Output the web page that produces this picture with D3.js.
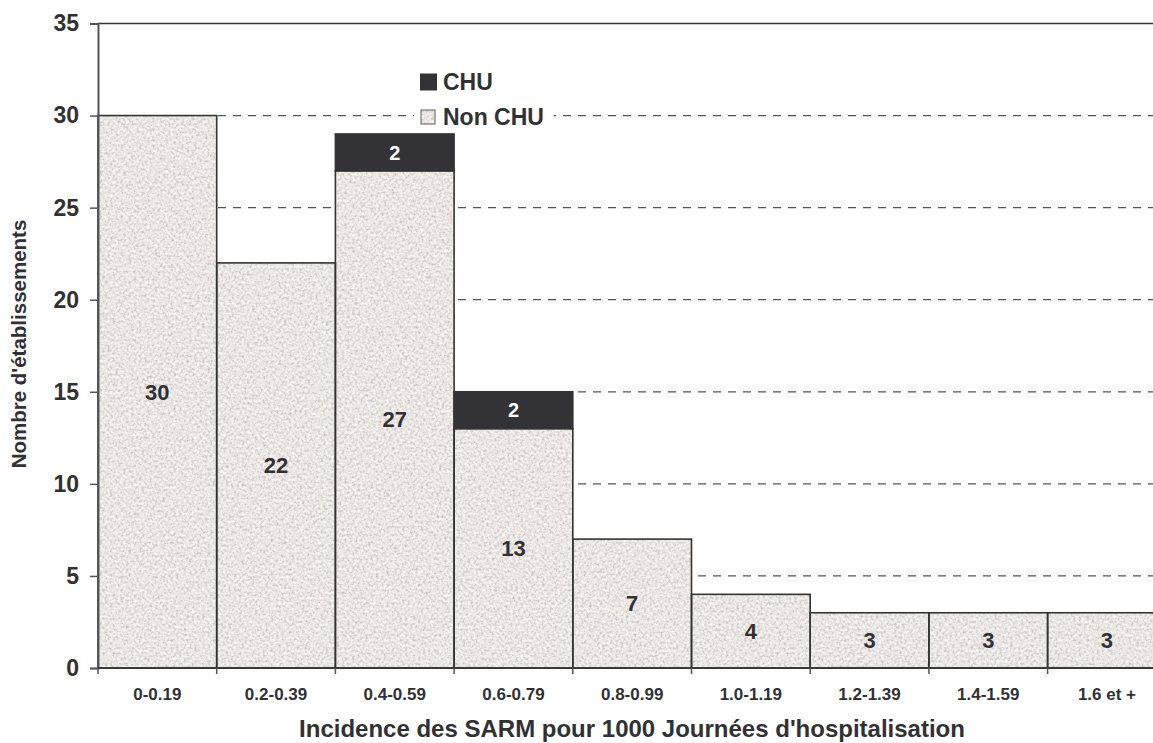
<!DOCTYPE html>
<html>
<head>
<meta charset="utf-8">
<script src="https://cdn.jsdelivr.net/npm/d3@7"></script>
<style>
  html, body { margin: 0; padding: 0; background: #fff; }
  svg { display: block; font-family: "Liberation Sans", Arial, Helvetica, sans-serif; font-weight: bold; }
</style>
</head>
<body>
<svg id="chart" width="1153" height="743"></svg>
<script>
// Incidence classes (per 1000 hospital days)
const categories = ["0-0.19", "0.2-0.39", "0.4-0.59", "0.6-0.79", "0.8-0.99", "1.0-1.19", "1.2-1.39", "1.4-1.59", "1.6 et +"];
// Number of facilities per class
const nonChu = [30, 22, 27, 13, 7, 4, 3, 3, 3];
const chu    = [0, 0, 2, 2, 0, 0, 0, 0, 0];
const seriesNames = ["Non CHU", "CHU"];
const yTicks = [0, 5, 10, 15, 20, 25, 30, 35];

const svg = d3.select("#chart");
const W = 1153, H = 743;
const margin = { left: 98, top: 23.5, bottom: 668 };
const plotRight = 98 + 9 * 118.7;

const textColor = "#313134";
const chuColor = "#333337";
const baseFill = "#ebe7e5";

// grainy fill texture for the "Non CHU" bars (region = each element's own box)
const defs = svg.append("defs");
const f = defs.append("filter").attr("id", "grain")
  .attr("x", 0).attr("y", 0).attr("width", 1).attr("height", 1)
  .attr("filterUnits", "objectBoundingBox")
  .attr("color-interpolation-filters", "sRGB");
f.append("feTurbulence").attr("type", "fractalNoise").attr("baseFrequency", 0.38)
  .attr("numOctaves", 3).attr("seed", 7).attr("result", "noise");
f.append("feColorMatrix").attr("in", "noise").attr("type", "matrix")
  .attr("values", "0 0 0 0 0.78  0 0 0 0 0.74  0 0 0 0 0.73  2.8 0 0 0 -1.42")
  .attr("result", "speck");
f.append("feColorMatrix").attr("in", "noise").attr("type", "matrix")
  .attr("values", "0 0 0 0 1  0 0 0 0 1  0 0 0 0 1  -3.0 0 0 0 1.42")
  .attr("result", "light");
f.append("feMerge").call(m => {
  m.append("feMergeNode").attr("in", "SourceGraphic");
  m.append("feMergeNode").attr("in", "light");
  m.append("feMergeNode").attr("in", "speck");
});
defs.append("clipPath").attr("id", "clipAll")
  .append("rect").attr("x", 0).attr("y", 0).attr("width", W).attr("height", H);

const x = d3.scaleBand().domain(categories).range([margin.left, plotRight]).padding(0);
const y = d3.scaleLinear().domain([0, 35]).range([margin.bottom, margin.top]);

const rows = categories.map((c, i) => ({ cat: c, "Non CHU": nonChu[i], "CHU": chu[i] }));
const stacked = d3.stack().keys(seriesNames)(rows);

// dashed horizontal gridlines
svg.append("g").selectAll("line")
  .data(yTicks.filter(t => t > 0 && t < 35))
  .join("line")
  .attr("x1", margin.left).attr("x2", W)
  .attr("y1", d => y(d)).attr("y2", d => y(d))
  .attr("stroke", "#555").attr("stroke-width", 1.3)
  .attr("stroke-dasharray", "8,7");

// solid top frame line at 35
svg.append("line")
  .attr("x1", margin.left).attr("x2", W)
  .attr("y1", y(35)).attr("y2", y(35))
  .attr("stroke", "#333").attr("stroke-width", 1.6);

// bars
const gBars = svg.append("g");
const nonLayer = stacked[0];
const chuLayer = stacked[1];

gBars.append("g")
  .selectAll("rect").data(nonLayer).join("rect")
  .attr("x", d => x(d.data.cat)).attr("width", x.bandwidth())
  .attr("y", d => y(d[1])).attr("height", d => y(d[0]) - y(d[1]))
  .attr("fill", baseFill).attr("filter", "url(#grain)");
gBars.append("g").selectAll("rect").data(nonLayer).join("rect")
  .attr("x", d => x(d.data.cat)).attr("width", x.bandwidth())
  .attr("y", d => y(d[1])).attr("height", d => y(d[0]) - y(d[1]))
  .attr("fill", "none").attr("stroke", "#333").attr("stroke-width", 1.6);
gBars.append("g").selectAll("rect").data(chuLayer.filter(d => d[1] > d[0])).join("rect")
  .attr("x", d => x(d.data.cat)).attr("width", x.bandwidth())
  .attr("y", d => y(d[1])).attr("height", d => y(d[0]) - y(d[1]))
  .attr("fill", chuColor).attr("stroke", "#333").attr("stroke-width", 1.6);

// value labels
svg.append("g").selectAll("text").data(nonLayer).join("text")
  .attr("x", d => x(d.data.cat) + x.bandwidth() / 2)
  .attr("y", d => y((d[0] + d[1]) / 2))
  .attr("dy", "0.36em").attr("text-anchor", "middle")
  .attr("font-size", 22).attr("fill", textColor)
  .text(d => d.data["Non CHU"]);
svg.append("g").selectAll("text").data(chuLayer.filter(d => d[1] > d[0])).join("text")
  .attr("x", d => x(d.data.cat) + x.bandwidth() / 2)
  .attr("y", d => y((d[0] + d[1]) / 2))
  .attr("dy", "0.36em").attr("text-anchor", "middle")
  .attr("font-size", 20).attr("fill", "#fff")
  .text(d => d.data["CHU"]);

// y axis
const yAxis = svg.append("g")
  .attr("transform", `translate(${margin.left},0)`)
  .call(d3.axisLeft(y).tickValues(yTicks).tickSize(8).tickPadding(11).tickFormat(d3.format("d")));
yAxis.select(".domain").attr("stroke", "#555").attr("stroke-width", 2);
yAxis.selectAll(".tick line").attr("stroke", "#555").attr("stroke-width", 1.5);
yAxis.selectAll(".tick text").attr("font-size", 23).attr("fill", textColor)
  .attr("font-family", "Liberation Sans, Arial, sans-serif").attr("font-weight", "bold");

// x axis: ticks at class boundaries
const xAxis = svg.append("g").attr("clip-path", "url(#clipAll)");
xAxis.append("line")
  .attr("x1", margin.left).attr("x2", plotRight)
  .attr("y1", y(0)).attr("y2", y(0))
  .attr("stroke", "#3a3a3a").attr("stroke-width", 2.2);
xAxis.selectAll("line.tk").data(categories.concat(["end"])).join("line").attr("class", "tk")
  .attr("x1", (d, i) => margin.left + i * x.bandwidth())
  .attr("x2", (d, i) => margin.left + i * x.bandwidth())
  .attr("y1", y(0)).attr("y2", y(0) + 6)
  .attr("stroke", "#555").attr("stroke-width", 1.5);
xAxis.selectAll("text").data(categories).join("text")
  .attr("x", d => x(d) + x.bandwidth() / 2)
  .attr("y", 700).attr("text-anchor", "middle")
  .attr("font-size", 17).attr("fill", textColor)
  .text(d => d);

// axis titles
svg.append("text")
  .attr("x", 632).attr("y", 737).attr("text-anchor", "middle")
  .attr("font-size", 24).attr("fill", textColor)
  .text("Incidence des SARM pour 1000 Journées d'hospitalisation");
svg.append("text")
  .attr("transform", "translate(26,344) rotate(-90)")
  .attr("text-anchor", "middle")
  .attr("font-size", 20.5).attr("fill", textColor)
  .text("Nombre d'établissements");

// legend
const legend = svg.append("g");
legend.append("rect").attr("x", 414).attr("y", 66).attr("width", 140).attr("height", 62).attr("fill", "#fff");
const legendItems = [
  { name: "CHU", y: 82 },
  { name: "Non CHU", y: 117 }
];
legendItems.forEach(it => {
  if (it.name === "CHU") {
    legend.append("rect").attr("x", 420).attr("y", it.y - 8.5).attr("width", 17).attr("height", 17)
      .attr("fill", chuColor);
  } else {
    legend.append("rect").attr("x", 421).attr("y", it.y - 7).attr("width", 14).attr("height", 14)
      .attr("fill", baseFill).attr("filter", "url(#grain)");
    legend.append("rect").attr("x", 421).attr("y", it.y - 7).attr("width", 14).attr("height", 14)
      .attr("fill", "none").attr("stroke", "#777").attr("stroke-width", 1.2);
  }
  legend.append("text").attr("x", 443).attr("y", it.y).attr("dy", "0.36em")
    .attr("font-size", 23).attr("fill", textColor).text(it.name);
});
</script>
</body>
</html>
